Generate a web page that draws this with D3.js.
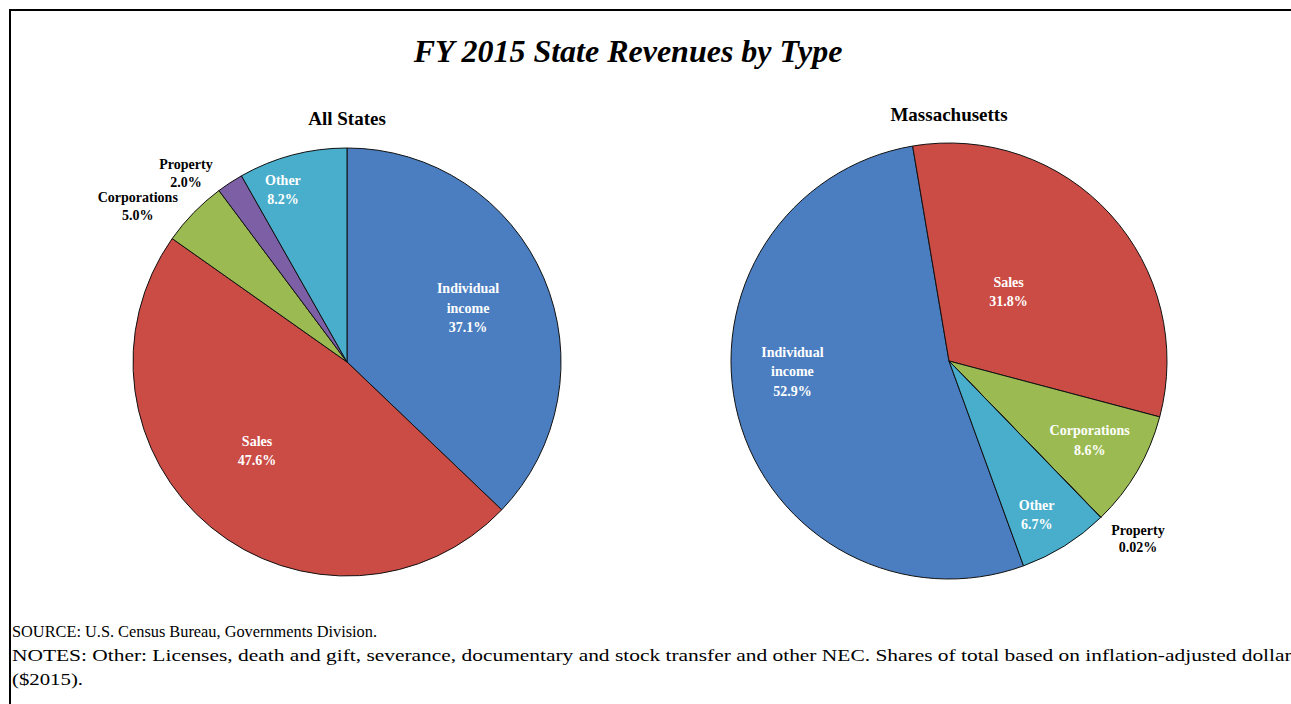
<!DOCTYPE html>
<html><head><meta charset="utf-8">
<script src="https://cdn.jsdelivr.net/npm/d3@7/dist/d3.min.js"></script>
<style>
body{margin:0;background:#fff;}
svg{display:block;font-family:"Liberation Serif","Times New Roman",serif;}
</style></head>
<body><svg id="c" width="1291" height="704"></svg>
<script>
const categories = ["Individual income","Sales","Corporations","Property","Other"];
const allStatesValues = [37.1, 47.6, 5.0, 2.0, 8.2];
const allStatesLabels = ["37.1%","47.6%","5.0%","2.0%","8.2%"];
const maValues = [52.9, 31.8, 8.6, 0.02, 6.7];
const maLabels = ["52.9%","31.8%","8.6%","0.02%","6.7%"];
const colors = ["#4a7ec0","#cb4b45","#9bbb52","#7d5fa6","#48aecb"];

const svg = d3.select("#c");
// frame
svg.append("rect").attr("x",10).attr("y",10).attr("width",1300).attr("height",720)
  .attr("fill","none").attr("stroke","#000").attr("stroke-width",2);

svg.append("text").attr("x",628).attr("y",62).attr("text-anchor","middle")
  .attr("font-size",32).attr("font-weight","bold").attr("font-style","italic").text("FY 2015 State Revenues by Type");

const charts = [
  {title:"All States", values:allStatesValues, labels:allStatesLabels, cx:347, cy:362, r:214, titleY:125, start:0,
   layout:{ "Individual income":{k:0.62,da:-1,inside:true}, "Sales":{k:0.59,da:6,inside:true},
            "Corporations":{k:1.22,da:-7.5,inside:false}, "Property":{k:1.16,da:-7.3,inside:false},
            "Other":{k:0.86,da:-5.6,inside:true} }},
  {title:"Massachusetts", values:maValues, labels:maLabels, cx:949, cy:361, r:218, titleY:121, start:160,
   layout:{ "Individual income":{k:0.72,da:11,inside:true}, "Sales":{k:0.42,da:-7,inside:true},
            "Corporations":{k:0.74,da:-1,inside:true}, "Property":{k:1.19,da:-2.6,inside:false},
            "Other":{k:0.81,da:2.3,inside:true} }}
];

const color = d3.scaleOrdinal().domain(categories).range(colors);

charts.forEach(ch => {
  const data = categories.map((c,i)=>({cat:c, v:ch.values[i], lab:ch.labels[i]}));
  const s = ch.start*Math.PI/180;
  const pie = d3.pie().value(d=>d.v).sort(null).startAngle(s).endAngle(s+2*Math.PI);
  const arcs = pie(data);
  const arc = d3.arc().innerRadius(0).outerRadius(ch.r);
  const g = svg.append("g").attr("transform",`translate(${ch.cx},${ch.cy})`);
  g.selectAll("path").data(arcs).join("path").attr("d",arc)
    .attr("fill",d=>color(d.data.cat)).attr("stroke","#111").attr("stroke-width",1);
  svg.append("text").attr("x",ch.cx).attr("y",ch.titleY).attr("text-anchor","middle")
    .attr("font-size",19).attr("font-weight","bold").text(ch.title);
  arcs.forEach(a=>{
    const L = ch.layout[a.data.cat];
    const mid = (a.startAngle+a.endAngle)/2 + L.da*Math.PI/180;
    const rr = ch.r*L.k;
    const x = Math.sin(mid)*rr, y = -Math.cos(mid)*rr;
    const lines = a.data.cat==="Individual income" ? ["Individual","income",a.data.lab] : [a.data.cat,a.data.lab];
    const lh = L.inside ? 19.5 : 17.5;
    const t = g.append("text").attr("text-anchor","middle").attr("font-weight","bold").attr("font-size",14)
      .attr("fill",L.inside?"#fff":"#000");
    lines.forEach((ln,i)=>{
      t.append("tspan").attr("x",x).attr("y",y+(i-(lines.length-1)/2)*lh+5).text(ln);
    });
  });
});

const footLines = ["SOURCE: U.S. Census Bureau, Governments Division.",
  "NOTES: Other: Licenses, death and gift, severance, documentary and stock transfer and other NEC. Shares of total based on inflation-adjusted dollars",
  "($2015)."];
const footWidths = [365, 1288, 71];
const footSizes = [16, 17, 17];
footLines.forEach((ln,i)=>svg.append("text").attr("font-size",footSizes[i]).attr("fill","#000")
  .attr("x",12).attr("y",637+i*24).attr("textLength",footWidths[i]).attr("lengthAdjust","spacingAndGlyphs").text(ln));
</script></body></html>
